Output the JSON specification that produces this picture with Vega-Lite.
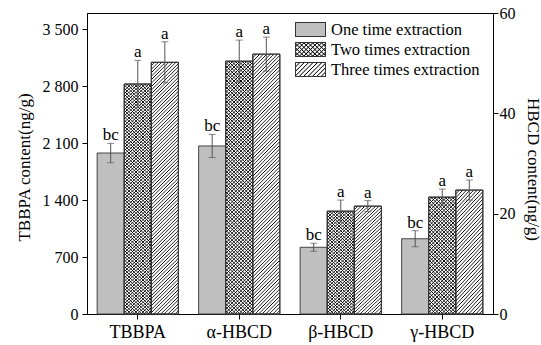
{
"$schema":"https://vega.github.io/schema/vega-lite/v6.json",
"width":406,"height":301,
"autosize":"none",
"padding":{"left":87,"top":13,"right":48,"bottom":31},
"background":"#ffffff",
"config":{"font":"Liberation Serif","view":{"stroke":"#000","strokeWidth":1},
"axis":{"grid":false,"labelFont":"Liberation Serif","titleFont":"Liberation Serif","labelFontSize":16,"titleFontSize":17,"titleFontWeight":"normal","labelColor":"#000","titleColor":"#000","tickColor":"#000","domainColor":"#000","tickSize":5}},
"params":[
{"name":"sT","value":[
{"offset":0,"color":"#000"},{"offset":0.0031,"color":"#0000"},{"offset":0.0094,"color":"#0000"},{"offset":0.0125,"color":"#000"},{"offset":0.0156,"color":"#0000"},{"offset":0.0219,"color":"#0000"},{"offset":0.025,"color":"#000"},{"offset":0.0281,"color":"#0000"},{"offset":0.0344,"color":"#0000"},{"offset":0.0375,"color":"#000"},{"offset":0.0406,"color":"#0000"},{"offset":0.0469,"color":"#0000"},{"offset":0.05,"color":"#000"},{"offset":0.0531,"color":"#0000"},{"offset":0.0594,"color":"#0000"},{"offset":0.0625,"color":"#000"},{"offset":0.0656,"color":"#0000"},{"offset":0.0719,"color":"#0000"},{"offset":0.075,"color":"#000"},{"offset":0.0781,"color":"#0000"},{"offset":0.0844,"color":"#0000"},{"offset":0.0875,"color":"#000"},{"offset":0.0906,"color":"#0000"},{"offset":0.0969,"color":"#0000"},
{"offset":0.1,"color":"#000"},{"offset":0.1031,"color":"#0000"},{"offset":0.1094,"color":"#0000"},{"offset":0.1125,"color":"#000"},{"offset":0.1156,"color":"#0000"},{"offset":0.1219,"color":"#0000"},{"offset":0.125,"color":"#000"},{"offset":0.1281,"color":"#0000"},{"offset":0.1344,"color":"#0000"},{"offset":0.1375,"color":"#000"},{"offset":0.1406,"color":"#0000"},{"offset":0.1469,"color":"#0000"},{"offset":0.15,"color":"#000"},{"offset":0.1531,"color":"#0000"},{"offset":0.1594,"color":"#0000"},{"offset":0.1625,"color":"#000"},{"offset":0.1656,"color":"#0000"},{"offset":0.1719,"color":"#0000"},{"offset":0.175,"color":"#000"},{"offset":0.1781,"color":"#0000"},{"offset":0.1844,"color":"#0000"},{"offset":0.1875,"color":"#000"},{"offset":0.1906,"color":"#0000"},{"offset":0.1969,"color":"#0000"},
{"offset":0.2,"color":"#000"},{"offset":0.2031,"color":"#0000"},{"offset":0.2094,"color":"#0000"},{"offset":0.2125,"color":"#000"},{"offset":0.2156,"color":"#0000"},{"offset":0.2219,"color":"#0000"},{"offset":0.225,"color":"#000"},{"offset":0.2281,"color":"#0000"},{"offset":0.2344,"color":"#0000"},{"offset":0.2375,"color":"#000"},{"offset":0.2406,"color":"#0000"},{"offset":0.2469,"color":"#0000"},{"offset":0.25,"color":"#000"},{"offset":0.2531,"color":"#0000"},{"offset":0.2594,"color":"#0000"},{"offset":0.2625,"color":"#000"},{"offset":0.2656,"color":"#0000"},{"offset":0.2719,"color":"#0000"},{"offset":0.275,"color":"#000"},{"offset":0.2781,"color":"#0000"},{"offset":0.2844,"color":"#0000"},{"offset":0.2875,"color":"#000"},{"offset":0.2906,"color":"#0000"},{"offset":0.2969,"color":"#0000"},
{"offset":0.3,"color":"#000"},{"offset":0.3031,"color":"#0000"},{"offset":0.3094,"color":"#0000"},{"offset":0.3125,"color":"#000"},{"offset":0.3156,"color":"#0000"},{"offset":0.3219,"color":"#0000"},{"offset":0.325,"color":"#000"},{"offset":0.3281,"color":"#0000"},{"offset":0.3344,"color":"#0000"},{"offset":0.3375,"color":"#000"},{"offset":0.3406,"color":"#0000"},{"offset":0.3469,"color":"#0000"},{"offset":0.35,"color":"#000"},{"offset":0.3531,"color":"#0000"},{"offset":0.3594,"color":"#0000"},{"offset":0.3625,"color":"#000"},{"offset":0.3656,"color":"#0000"},{"offset":0.3719,"color":"#0000"},{"offset":0.375,"color":"#000"},{"offset":0.3781,"color":"#0000"},{"offset":0.3844,"color":"#0000"},{"offset":0.3875,"color":"#000"},{"offset":0.3906,"color":"#0000"},{"offset":0.3969,"color":"#0000"},
{"offset":0.4,"color":"#000"},{"offset":0.4031,"color":"#0000"},{"offset":0.4094,"color":"#0000"},{"offset":0.4125,"color":"#000"},{"offset":0.4156,"color":"#0000"},{"offset":0.4219,"color":"#0000"},{"offset":0.425,"color":"#000"},{"offset":0.4281,"color":"#0000"},{"offset":0.4344,"color":"#0000"},{"offset":0.4375,"color":"#000"},{"offset":0.4406,"color":"#0000"},{"offset":0.4469,"color":"#0000"},{"offset":0.45,"color":"#000"},{"offset":0.4531,"color":"#0000"},{"offset":0.4594,"color":"#0000"},{"offset":0.4625,"color":"#000"},{"offset":0.4656,"color":"#0000"},{"offset":0.4719,"color":"#0000"},{"offset":0.475,"color":"#000"},{"offset":0.4781,"color":"#0000"},{"offset":0.4844,"color":"#0000"},{"offset":0.4875,"color":"#000"},{"offset":0.4906,"color":"#0000"},{"offset":0.4969,"color":"#0000"},
{"offset":0.5,"color":"#000"},{"offset":0.5031,"color":"#0000"},{"offset":0.5094,"color":"#0000"},{"offset":0.5125,"color":"#000"},{"offset":0.5156,"color":"#0000"},{"offset":0.5219,"color":"#0000"},{"offset":0.525,"color":"#000"},{"offset":0.5281,"color":"#0000"},{"offset":0.5344,"color":"#0000"},{"offset":0.5375,"color":"#000"},{"offset":0.5406,"color":"#0000"},{"offset":0.5469,"color":"#0000"},{"offset":0.55,"color":"#000"},{"offset":0.5531,"color":"#0000"},{"offset":0.5594,"color":"#0000"},{"offset":0.5625,"color":"#000"},{"offset":0.5656,"color":"#0000"},{"offset":0.5719,"color":"#0000"},{"offset":0.575,"color":"#000"},{"offset":0.5781,"color":"#0000"},{"offset":0.5844,"color":"#0000"},{"offset":0.5875,"color":"#000"},{"offset":0.5906,"color":"#0000"},{"offset":0.5969,"color":"#0000"},
{"offset":0.6,"color":"#000"},{"offset":0.6031,"color":"#0000"},{"offset":0.6094,"color":"#0000"},{"offset":0.6125,"color":"#000"},{"offset":0.6156,"color":"#0000"},{"offset":0.6219,"color":"#0000"},{"offset":0.625,"color":"#000"},{"offset":0.6281,"color":"#0000"},{"offset":0.6344,"color":"#0000"},{"offset":0.6375,"color":"#000"},{"offset":0.6406,"color":"#0000"},{"offset":0.6469,"color":"#0000"},{"offset":0.65,"color":"#000"},{"offset":0.6531,"color":"#0000"},{"offset":0.6594,"color":"#0000"},{"offset":0.6625,"color":"#000"},{"offset":0.6656,"color":"#0000"},{"offset":0.6719,"color":"#0000"},{"offset":0.675,"color":"#000"},{"offset":0.6781,"color":"#0000"},{"offset":0.6844,"color":"#0000"},{"offset":0.6875,"color":"#000"},{"offset":0.6906,"color":"#0000"},{"offset":0.6969,"color":"#0000"},
{"offset":0.7,"color":"#000"},{"offset":0.7031,"color":"#0000"},{"offset":0.7094,"color":"#0000"},{"offset":0.7125,"color":"#000"},{"offset":0.7156,"color":"#0000"},{"offset":0.7219,"color":"#0000"},{"offset":0.725,"color":"#000"},{"offset":0.7281,"color":"#0000"},{"offset":0.7344,"color":"#0000"},{"offset":0.7375,"color":"#000"},{"offset":0.7406,"color":"#0000"},{"offset":0.7469,"color":"#0000"},{"offset":0.75,"color":"#000"},{"offset":0.7531,"color":"#0000"},{"offset":0.7594,"color":"#0000"},{"offset":0.7625,"color":"#000"},{"offset":0.7656,"color":"#0000"},{"offset":0.7719,"color":"#0000"},{"offset":0.775,"color":"#000"},{"offset":0.7781,"color":"#0000"},{"offset":0.7844,"color":"#0000"},{"offset":0.7875,"color":"#000"},{"offset":0.7906,"color":"#0000"},{"offset":0.7969,"color":"#0000"},
{"offset":0.8,"color":"#000"},{"offset":0.8031,"color":"#0000"},{"offset":0.8094,"color":"#0000"},{"offset":0.8125,"color":"#000"},{"offset":0.8156,"color":"#0000"},{"offset":0.8219,"color":"#0000"},{"offset":0.825,"color":"#000"},{"offset":0.8281,"color":"#0000"},{"offset":0.8344,"color":"#0000"},{"offset":0.8375,"color":"#000"},{"offset":0.8406,"color":"#0000"},{"offset":0.8469,"color":"#0000"},{"offset":0.85,"color":"#000"},{"offset":0.8531,"color":"#0000"},{"offset":0.8594,"color":"#0000"},{"offset":0.8625,"color":"#000"},{"offset":0.8656,"color":"#0000"},{"offset":0.8719,"color":"#0000"},{"offset":0.875,"color":"#000"},{"offset":0.8781,"color":"#0000"},{"offset":0.8844,"color":"#0000"},{"offset":0.8875,"color":"#000"},{"offset":0.8906,"color":"#0000"},{"offset":0.8969,"color":"#0000"},
{"offset":0.9,"color":"#000"},{"offset":0.9031,"color":"#0000"},{"offset":0.9094,"color":"#0000"},{"offset":0.9125,"color":"#000"},{"offset":0.9156,"color":"#0000"},{"offset":0.9219,"color":"#0000"},{"offset":0.925,"color":"#000"},{"offset":0.9281,"color":"#0000"},{"offset":0.9344,"color":"#0000"},{"offset":0.9375,"color":"#000"},{"offset":0.9406,"color":"#0000"},{"offset":0.9469,"color":"#0000"},{"offset":0.95,"color":"#000"},{"offset":0.9531,"color":"#0000"},{"offset":0.9594,"color":"#0000"},{"offset":0.9625,"color":"#000"},{"offset":0.9656,"color":"#0000"},{"offset":0.9719,"color":"#0000"},{"offset":0.975,"color":"#000"},{"offset":0.9781,"color":"#0000"},{"offset":0.9844,"color":"#0000"},{"offset":0.9875,"color":"#000"},{"offset":0.9906,"color":"#0000"},{"offset":0.9969,"color":"#0000"},
{"offset":1,"color":"#000"}]},
{"name":"sS","value":[
{"offset":0,"color":"#000"},{"offset":0.0063,"color":"#0000"},{"offset":0.0188,"color":"#0000"},{"offset":0.025,"color":"#000"},{"offset":0.0313,"color":"#0000"},{"offset":0.0438,"color":"#0000"},{"offset":0.05,"color":"#000"},{"offset":0.0563,"color":"#0000"},{"offset":0.0688,"color":"#0000"},{"offset":0.075,"color":"#000"},{"offset":0.0813,"color":"#0000"},{"offset":0.0938,"color":"#0000"},
{"offset":0.1,"color":"#000"},{"offset":0.1063,"color":"#0000"},{"offset":0.1188,"color":"#0000"},{"offset":0.125,"color":"#000"},{"offset":0.1313,"color":"#0000"},{"offset":0.1438,"color":"#0000"},{"offset":0.15,"color":"#000"},{"offset":0.1563,"color":"#0000"},{"offset":0.1688,"color":"#0000"},{"offset":0.175,"color":"#000"},{"offset":0.1813,"color":"#0000"},{"offset":0.1938,"color":"#0000"},
{"offset":0.2,"color":"#000"},{"offset":0.2063,"color":"#0000"},{"offset":0.2188,"color":"#0000"},{"offset":0.225,"color":"#000"},{"offset":0.2313,"color":"#0000"},{"offset":0.2438,"color":"#0000"},{"offset":0.25,"color":"#000"},{"offset":0.2563,"color":"#0000"},{"offset":0.2688,"color":"#0000"},{"offset":0.275,"color":"#000"},{"offset":0.2813,"color":"#0000"},{"offset":0.2938,"color":"#0000"},
{"offset":0.3,"color":"#000"},{"offset":0.3063,"color":"#0000"},{"offset":0.3188,"color":"#0000"},{"offset":0.325,"color":"#000"},{"offset":0.3313,"color":"#0000"},{"offset":0.3438,"color":"#0000"},{"offset":0.35,"color":"#000"},{"offset":0.3563,"color":"#0000"},{"offset":0.3688,"color":"#0000"},{"offset":0.375,"color":"#000"},{"offset":0.3813,"color":"#0000"},{"offset":0.3938,"color":"#0000"},
{"offset":0.4,"color":"#000"},{"offset":0.4063,"color":"#0000"},{"offset":0.4188,"color":"#0000"},{"offset":0.425,"color":"#000"},{"offset":0.4313,"color":"#0000"},{"offset":0.4438,"color":"#0000"},{"offset":0.45,"color":"#000"},{"offset":0.4563,"color":"#0000"},{"offset":0.4688,"color":"#0000"},{"offset":0.475,"color":"#000"},{"offset":0.4813,"color":"#0000"},{"offset":0.4938,"color":"#0000"},
{"offset":0.5,"color":"#000"},{"offset":0.5063,"color":"#0000"},{"offset":0.5188,"color":"#0000"},{"offset":0.525,"color":"#000"},{"offset":0.5313,"color":"#0000"},{"offset":0.5438,"color":"#0000"},{"offset":0.55,"color":"#000"},{"offset":0.5563,"color":"#0000"},{"offset":0.5688,"color":"#0000"},{"offset":0.575,"color":"#000"},{"offset":0.5813,"color":"#0000"},{"offset":0.5938,"color":"#0000"},
{"offset":0.6,"color":"#000"},{"offset":0.6063,"color":"#0000"},{"offset":0.6188,"color":"#0000"},{"offset":0.625,"color":"#000"},{"offset":0.6313,"color":"#0000"},{"offset":0.6438,"color":"#0000"},{"offset":0.65,"color":"#000"},{"offset":0.6563,"color":"#0000"},{"offset":0.6688,"color":"#0000"},{"offset":0.675,"color":"#000"},{"offset":0.6813,"color":"#0000"},{"offset":0.6938,"color":"#0000"},
{"offset":0.7,"color":"#000"},{"offset":0.7063,"color":"#0000"},{"offset":0.7188,"color":"#0000"},{"offset":0.725,"color":"#000"},{"offset":0.7313,"color":"#0000"},{"offset":0.7438,"color":"#0000"},{"offset":0.75,"color":"#000"},{"offset":0.7563,"color":"#0000"},{"offset":0.7688,"color":"#0000"},{"offset":0.775,"color":"#000"},{"offset":0.7813,"color":"#0000"},{"offset":0.7938,"color":"#0000"},
{"offset":0.8,"color":"#000"},{"offset":0.8063,"color":"#0000"},{"offset":0.8188,"color":"#0000"},{"offset":0.825,"color":"#000"},{"offset":0.8313,"color":"#0000"},{"offset":0.8438,"color":"#0000"},{"offset":0.85,"color":"#000"},{"offset":0.8563,"color":"#0000"},{"offset":0.8688,"color":"#0000"},{"offset":0.875,"color":"#000"},{"offset":0.8813,"color":"#0000"},{"offset":0.8938,"color":"#0000"},
{"offset":0.9,"color":"#000"},{"offset":0.9063,"color":"#0000"},{"offset":0.9188,"color":"#0000"},{"offset":0.925,"color":"#000"},{"offset":0.9313,"color":"#0000"},{"offset":0.9438,"color":"#0000"},{"offset":0.95,"color":"#000"},{"offset":0.9563,"color":"#0000"},{"offset":0.9688,"color":"#0000"},{"offset":0.975,"color":"#000"},{"offset":0.9813,"color":"#0000"},{"offset":0.9938,"color":"#0000"},
{"offset":1,"color":"#000"}]},
{"name":"sL","value":[
{"offset":0,"color":"#000"},{"offset":0.025,"color":"#0000"},{"offset":0.075,"color":"#0000"},{"offset":0.1,"color":"#000"},{"offset":0.125,"color":"#0000"},{"offset":0.175,"color":"#0000"},{"offset":0.2,"color":"#000"},{"offset":0.225,"color":"#0000"},{"offset":0.275,"color":"#0000"},{"offset":0.3,"color":"#000"},{"offset":0.325,"color":"#0000"},{"offset":0.375,"color":"#0000"},{"offset":0.4,"color":"#000"},{"offset":0.425,"color":"#0000"},{"offset":0.475,"color":"#0000"},{"offset":0.5,"color":"#000"},{"offset":0.525,"color":"#0000"},{"offset":0.575,"color":"#0000"},{"offset":0.6,"color":"#000"},{"offset":0.625,"color":"#0000"},{"offset":0.675,"color":"#0000"},{"offset":0.7,"color":"#000"},{"offset":0.725,"color":"#0000"},{"offset":0.775,"color":"#0000"},{"offset":0.8,"color":"#000"},{"offset":0.825,"color":"#0000"},{"offset":0.875,"color":"#0000"},{"offset":0.9,"color":"#000"},{"offset":0.925,"color":"#0000"},{"offset":0.975,"color":"#0000"},{"offset":1,"color":"#000"}]},
{"name":"gST","expr":"{gradient:'linear',x1:0,y1:0,x2:0.1158,y2:1.0936,stops:sT}"},
{"name":"gBT","expr":"{gradient:'linear',x1:0,y1:1,x2:0.1158,y2:-0.0936,stops:sT}"},
{"name":"gSS","expr":"{gradient:'linear',x1:0,y1:0,x2:0.2748,y2:1.1703,stops:sS}"},
{"name":"gBS","expr":"{gradient:'linear',x1:0,y1:1,x2:0.2748,y2:-0.1703,stops:sS}"},
{"name":"gSL","expr":"{gradient:'linear',x1:0,y1:0,x2:1.2044,y2:0.562,stops:sL}"},
{"name":"gBL","expr":"{gradient:'linear',x1:0,y1:1,x2:1.2044,y2:0.438,stops:sL}"}
],
"data":{"values":[
{"cat":"TBBPA","series":"One time extraction","unit":"TBBPA","value":1979,"lo":1860,"hi":2098,"label":"bc"},
{"cat":"TBBPA","series":"Two times extraction","unit":"TBBPA","value":2827,"lo":2536,"hi":3118,"label":"a"},
{"cat":"TBBPA","series":"Three times extraction","unit":"TBBPA","value":3094,"lo":2842,"hi":3346,"label":"a"},
{"cat":"α-HBCD","series":"One time extraction","unit":"HBCD","value":33.5,"lo":31.2,"hi":35.8,"label":"bc"},
{"cat":"α-HBCD","series":"Two times extraction","unit":"HBCD","value":50.4,"lo":46.2,"hi":54.6,"label":"a"},
{"cat":"α-HBCD","series":"Three times extraction","unit":"HBCD","value":51.8,"lo":48.4,"hi":55.2,"label":"a"},
{"cat":"β-HBCD","series":"One time extraction","unit":"HBCD","value":13.3,"lo":12.5,"hi":14.1,"label":"bc"},
{"cat":"β-HBCD","series":"Two times extraction","unit":"HBCD","value":20.5,"lo":18.3,"hi":22.7,"label":"a"},
{"cat":"β-HBCD","series":"Three times extraction","unit":"HBCD","value":21.5,"lo":20.4,"hi":22.6,"label":"a"},
{"cat":"γ-HBCD","series":"One time extraction","unit":"HBCD","value":15.0,"lo":13.4,"hi":16.6,"label":"bc"},
{"cat":"γ-HBCD","series":"Two times extraction","unit":"HBCD","value":23.3,"lo":21.7,"hi":24.9,"label":"a"},
{"cat":"γ-HBCD","series":"Three times extraction","unit":"HBCD","value":24.7,"lo":22.7,"hi":26.7,"label":"a"}
]},
"encoding":{
"x":{"field":"cat","type":"nominal","sort":null,"scale":{"domain":["TBBPA","α-HBCD","β-HBCD","γ-HBCD"],"paddingInner":0.2,"paddingOuter":0.1},
"axis":{"title":null,"labelAngle":0,"labelFontSize":18,"labelPadding":4}},
"xOffset":{"field":"series","type":"nominal","scale":{"domain":["One time extraction","Two times extraction","Three times extraction"],"paddingInner":0,"paddingOuter":0}}
},
"layer":[
{"transform":[{"filter":"datum.unit==='TBBPA'"}],
"encoding":{"y":{"field":"value","type":"quantitative","scale":{"domain":[0,3700],"nice":false},
"axis":{"orient":"left","values":[0,700,1400,2100,2800,3500],"labelExpr":"replace(format(datum.value, ','), ',', ' ')","labelPadding":4,"title":"TBBPA content(ng/g)","titleX":-63,"titleY":154,"titleAngle":-90,"titleAlign":"center","titleBaseline":"middle"}}},
"layer":[
{"mark":{"type":"bar","stroke":"#444","strokeWidth":1},
"encoding":{"fill":{"condition":{"test":"datum.series!=='One time extraction'","value":"#ffffff"},"field":"series","type":"nominal",
"scale":{"domain":["One time extraction","Two times extraction","Three times extraction"],"range":["#bfbfbf",{"expr":"gSL"},{"expr":"gSL"}]},
"legend":{"orient":"none","legendX":213,"legendY":6,"title":null,"padding":0,"symbolType":"M-1.5,-0.7H1.5V0.7H-1.5Z","symbolSize":400,"symbolStrokeColor":"#333","symbolStrokeWidth":1,"symbolOpacity":1,"labelFont":"Liberation Serif","labelFontSize":16.5,"labelColor":"#000","labelOffset":10,"labelLimit":400,"rowPadding":-3.3}}}},
{"transform":[{"filter":"datum.series==='Two times extraction'"}],
"mark":{"type":"bar","strokeWidth":0},
"encoding":{"fill":{"condition":{"test":"true","value":{"expr":"gBT"}},"field":"series","type":"nominal",
"scale":{"domain":["One time extraction","Two times extraction","Three times extraction"],"range":["#0000",{"expr":"gBL"},"#0000"]},
"legend":{"orient":"none","legendX":213,"legendY":6,"title":null,"padding":0,"symbolType":"M-1.5,-0.7H1.5V0.7H-1.5Z","symbolSize":400,"symbolStrokeColor":"#333","symbolStrokeWidth":1,"symbolOpacity":1,"labelFont":"Liberation Serif","labelFontSize":16.5,"labelExpr":"''","labelOffset":10,"labelLimit":400,"rowPadding":-3.3}}}},
{"transform":[{"filter":"datum.series!=='One time extraction'"}],
"mark":{"type":"bar","stroke":"#333","strokeWidth":1},
"encoding":{"fill":{"value":{"expr":"gST"}}}},
{"mark":{"type":"rule","color":"#555","strokeWidth":1},
"encoding":{"y":{"field":"lo","type":"quantitative"},"y2":{"field":"hi"}}},
{"mark":{"type":"tick","color":"#555","size":7,"thickness":1},
"encoding":{"y":{"field":"lo","type":"quantitative"}}},
{"mark":{"type":"tick","color":"#555","size":7,"thickness":1},
"encoding":{"y":{"field":"hi","type":"quantitative"}}},
{"mark":{"type":"text","dy":-3,"baseline":"alphabetic","font":"Liberation Serif","fontSize":17,"color":"#000"},
"encoding":{"y":{"field":"hi","type":"quantitative"},"text":{"field":"label"}}}
],
"resolve":{"scale":{"fill":"independent"},"legend":{"fill":"independent"}}
},
{"transform":[{"filter":"datum.unit==='HBCD'"}],
"encoding":{"y":{"field":"value","type":"quantitative","scale":{"domain":[0,60],"nice":false},
"axis":{"orient":"right","values":[0,20,40,60],"labelPadding":1,"title":"HBCD content(ng/g)","titleX":39,"titleY":156,"titleAngle":90,"titleAlign":"center","titleBaseline":"middle"}}},
"layer":[
{"mark":{"type":"bar","stroke":"#444","strokeWidth":1},
"encoding":{"fill":{"condition":{"test":"datum.series!=='One time extraction'","value":"#ffffff"},"field":"series","type":"nominal",
"scale":{"domain":["One time extraction","Two times extraction","Three times extraction"],"range":["#bfbfbf","#ffffff","#ffffff"]},"legend":null}}},
{"transform":[{"filter":"datum.series==='Two times extraction'"}],
"mark":{"type":"bar","strokeWidth":0},
"encoding":{"fill":{"condition":{"test":"datum.cat==='α-HBCD'","value":{"expr":"gBT"}},"value":{"expr":"gBS"}}}},
{"transform":[{"filter":"datum.series!=='One time extraction'"}],
"mark":{"type":"bar","stroke":"#333","strokeWidth":1},
"encoding":{"fill":{"condition":{"test":"datum.cat==='α-HBCD'","value":{"expr":"gST"}},"value":{"expr":"gSS"}}}},
{"mark":{"type":"rule","color":"#555","strokeWidth":1},
"encoding":{"y":{"field":"lo","type":"quantitative"},"y2":{"field":"hi"}}},
{"mark":{"type":"tick","color":"#555","size":7,"thickness":1},
"encoding":{"y":{"field":"lo","type":"quantitative"}}},
{"mark":{"type":"tick","color":"#555","size":7,"thickness":1},
"encoding":{"y":{"field":"hi","type":"quantitative"}}},
{"mark":{"type":"text","dy":-3,"baseline":"alphabetic","font":"Liberation Serif","fontSize":17,"color":"#000"},
"encoding":{"y":{"field":"hi","type":"quantitative"},"text":{"field":"label"}}}
],
"resolve":{"scale":{"fill":"independent"},"legend":{"fill":"independent"}}
}
],
"resolve":{"scale":{"y":"independent","fill":"independent"},"legend":{"fill":"independent"}}
}
